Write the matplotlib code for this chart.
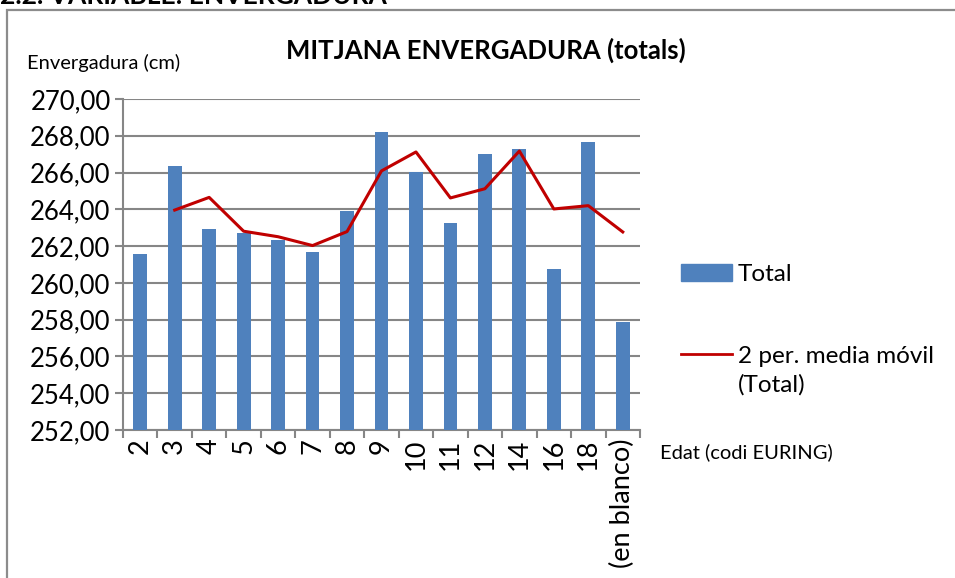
import matplotlib
matplotlib.use("Agg")
import matplotlib.pyplot as plt
from matplotlib.patches import Rectangle
from matplotlib.lines import Line2D
import numpy as np

plt.rcParams['font.family'] = ['Lato', 'DejaVu Sans']

# data
edats = ['2', '3', '4', '5', '6', '7', '8', '9', '10', '11', '12', '14', '16', '18', '(en blanco)']
total = [261.55, 266.34, 262.91, 262.70, 262.33, 261.68, 263.89, 268.22,
         266.01, 263.24, 267.01, 267.26, 260.74, 267.64, 257.87]
# 2 per. media movil (starts at second category)
mitjana_mobil = [263.96, 264.65, 262.81, 262.51, 262.03, 262.79, 266.09,
                 267.12, 264.62, 265.12, 267.17, 264.02, 264.20, 262.77]
yticks = [252, 254, 256, 258, 260, 262, 264, 266, 268, 270]

bar_col = '#4F81BD'
line_col = '#C00000'
grey = '#868686'

fig = plt.figure(figsize=(9.55, 5.78), dpi=100)

# chart frame (cut on the right and bottom)
fig.patches.append(Rectangle((7/955, -0.05), 1.0, (568/578) + 0.05,
                             transform=fig.transFigure, fill=False,
                             edgecolor='#8c8c8c', linewidth=1.6))

# heading of the page, mostly cut off at the top
fig.text(0.0, 0.993, '2.2. VARIABLE: ENVERGADURA', fontsize=19, fontweight='bold',
         ha='left', va='baseline')

ax = fig.add_axes([123/955, 148/578, 517/955, 331/578])
x = np.arange(len(edats))
ax.bar(x, total, width=0.4, color=bar_col, zorder=3, label='Total')
ax.plot(x[1:], mitjana_mobil, color=line_col, lw=2.2, zorder=4)

ax.set_ylim(252, 270)
ax.set_xlim(-0.5, len(edats) - 0.5)
ax.set_yticks(yticks)
ax.set_yticklabels([('%.2f' % v).replace('.', ',') for v in yticks])
ax.yaxis.grid(True, color=grey, lw=1.5, zorder=0)

ax.set_xticks(np.arange(-0.5, len(edats)), minor=False)
ax.set_xticklabels([])
ax.set_xticks(x, minor=True)
ax.set_xticklabels(edats, minor=True, rotation=90, fontsize=19.5)
ax.tick_params(axis='x', which='major', length=6, width=1.5, color=grey, direction='out')
ax.tick_params(axis='x', which='minor', length=0, pad=6)
ax.tick_params(axis='y', length=6, width=1.5, color=grey, labelsize=18.5, pad=3)

for s in ['top', 'right']:
    ax.spines[s].set_visible(False)
for s in ['left', 'bottom']:
    ax.spines[s].set_color(grey)
    ax.spines[s].set_linewidth(1.5)

fig.text(486/955, 1 - 50/578, 'MITJANA ENVERGADURA (totals)', fontsize=18.5,
         fontweight='bold', ha='center', va='center')
fig.text(27/955, 1 - 63/578, 'Envergadura (cm)', fontsize=14.5, ha='left', va='center')
fig.text(660/955, 1 - 452/578, 'Edat (codi EURING)', fontsize=14.5, ha='left', va='center')

handles = [Rectangle((0, 0), 1, 1, color=bar_col),
           Line2D([0], [0], color=line_col, lw=2)]
fig.legend(handles, ['Total', '2 per. media móvil'],
           loc='upper left', bbox_to_anchor=(681/955, 1 - 264/578),
           frameon=False, fontsize=17.5, handlelength=2.1, handletextpad=0.25,
           labelspacing=2.5, borderaxespad=0, borderpad=0)
# second line of the moving-average legend label
fig.text(738/955, 1 - 385/578, '(Total)', fontsize=17.5, ha='left', va='center')

fig.savefig('out.png', dpi=100)
